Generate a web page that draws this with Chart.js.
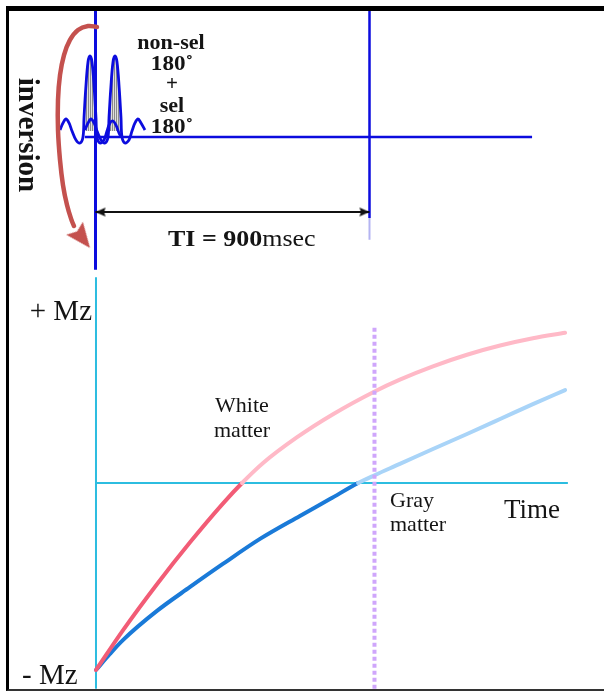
<!DOCTYPE html>
<html><head><meta charset="utf-8">
<script src="https://cdn.jsdelivr.net/npm/chart.js@4.4.1/dist/chart.umd.min.js"></script>
<style>
html,body{margin:0;padding:0;background:#fff;}
#wrap{position:relative;width:604px;height:691px;overflow:hidden;}
#c{position:absolute;left:0;top:0;}
#frame{position:absolute;left:6px;top:6px;width:598px;height:685px;box-sizing:border-box;border-top:5px solid #000;border-left:3px solid #000;border-bottom:2px solid #333;pointer-events:none;}
</style></head><body>
<div id="wrap"><canvas id="c" width="604" height="691"></canvas><div id="frame"></div></div>
<script>
// ---------- Lower chart: longitudinal magnetisation recovery ----------
const wmTime = [0, 87, 197, 304, 410, 472, 540, 650, 766, 902, 982, 1089, 1199, 1306, 1412, 1516];
const wmMz   = [-1.0, -0.788, -0.541, -0.317, -0.110, 0, 0.107, 0.245, 0.368, 0.491, 0.553, 0.624, 0.686, 0.735, 0.774, 0.803];
const gmTime = [0, 45, 87, 197, 304, 410, 530, 659, 756, 847, 902, 982, 1089, 1199, 1306, 1412, 1516];
const gmMz   = [-1.0, -0.914, -0.840, -0.684, -0.556, -0.433, -0.299, -0.176, -0.086, 0, 0.043, 0.102, 0.182, 0.262, 0.342, 0.422, 0.497];
const TI = 900;                       // msec
const timeAxisEnd = 1525;             // msec
const mzAxisRange = [-1.10, 1.10];    // vertical Mz axis extent
const tiLineRange = [-1.10, 0.845];   // dotted TI marker extent

// ---------- Upper diagram: pulse sequence ----------
const pulse1T = [-116.6,-106.8,-96.9,-87.0,-77.2,-64.1,-50.9,-41.1,-37.8,-31.9,-24.6,-18.1,-11.5,-4.3,1.6,4.9,14.8,27.9,37.8,47.6,57.5,67.3,77.2,83.8];
const pulse1A = [0.086,0.173,0.222,0.173,0.074,-0.037,-0.074,0,0.235,0.605,0.926,1.0,0.926,0.605,0.235,0,-0.074,-0.037,0.074,0.173,0.198,0.148,0.049,0];
const pulse2T = [-34.5,-24.6,-14.8,-4.9,4.9,18.1,31.2,41.1,44.3,50.3,57.5,64.1,70.6,77.8,83.8,87.0,96.9,110.0,119.9,129.7,139.6,149.5,162.6];
const pulse2A = [0.086,0.173,0.222,0.173,0.074,-0.037,-0.074,0,0.235,0.605,0.926,1.0,0.926,0.605,0.235,0,-0.074,-0.037,0.074,0.173,0.222,0.173,0.086];
const mainLobe1 = [7, 15];   // index range of main lobe in pulse1
const mainLobe2 = [7, 15];   // index range of main lobe in pulse2
const lobeBase = 0.074;
const arcT = [4.9,-24.6,-57.5,-83.8,-103.5,-116.6,-123.2,-123.2,-116.6,-106.8,-93.6,-78.8,-70.6];
const arcA = [1.358,1.370,1.321,1.198,1.012,0.765,0.457,0.086,-0.284,-0.593,-0.840,-1.025,-1.099];
const arcTip = {t: -18.1, a: -1.370};
const markerA = [1.57, -1.64];           // vertical marker at t = 0
const tiMarkerA = [1.57, -1.0, -1.27];   // vertical marker at t = TI (solid, faded end)
const baselineT = [-35, 1434];
const tiArrowT = [0, TI];
const tiArrowA = -0.926;

const pts = (xs, ys) => xs.map((x, i) => ({x, y: ys[i]}));

// hatch pattern for pulse lobes
const pc = document.createElement('canvas'); pc.width = 2; pc.height = 2;
const pctx = pc.getContext('2d');
pctx.fillStyle = '#dedede'; pctx.fillRect(0,0,2,2);
pctx.fillStyle = '#8a8a8a'; pctx.fillRect(0,0,1,2);
const hatch = pctx.createPattern(pc, 'repeat');

// arrowhead images: tip at image centre, pointing left (rotate to aim)
function arrowHead(len, half, color) {
  const c = document.createElement('canvas');
  c.width = Math.ceil(len * 2 + 2); c.height = Math.ceil(half * 2 + 2);
  const g = c.getContext('2d');
  const cx = c.width / 2, cy = c.height / 2;
  g.fillStyle = color;
  g.beginPath(); g.moveTo(cx, cy); g.lineTo(cx + len, cy - half); g.lineTo(cx + len * 0.85, cy); g.lineTo(cx + len, cy + half); g.closePath(); g.fill();
  return c;
}
const smallHead = arrowHead(10, 4.5, '#111');
const bigHead = (() => {
  const c = document.createElement('canvas'); c.width = 54; c.height = 24;
  const g = c.getContext('2d'); g.fillStyle = '#c4514e';
  g.beginPath(); g.moveTo(27, 12); g.lineTo(52, 1.5); g.lineTo(48, 12); g.lineTo(52, 22.5); g.closePath(); g.fill();
  return c;
})();

const BLUE = 'rgb(12,12,222)';
const CYAN = '#2cbde0';

const serif = "'Liberation Serif','Times New Roman',serif";
const LABELS = [
  {text:'inversion', x:26, y:135, rot:90, align:'center', baseline:'middle', font:'bold 29px '+serif},
  {text:'non-sel', x:171, y:44, align:'center', baseline:'middle', font:'bold 21px '+serif, sx:1.05},
  {text:'180˚', x:172, y:65, align:'center', baseline:'middle', font:'bold 21px '+serif, sx:1.1},
  {text:'+', x:172, y:85, align:'center', baseline:'middle', font:'bold 21px '+serif},
  {text:'sel', x:172, y:107, align:'center', baseline:'middle', font:'bold 21px '+serif, sx:1.05},
  {text:'180˚', x:172, y:128, align:'center', baseline:'middle', font:'bold 21px '+serif, sx:1.1},
  {parts:[{text:'TI = 900', font:'bold 23px '+serif},{text:'msec', font:'23px '+serif}], x:168, y:246, sx:1.13},
  {text:'+ Mz', x:92, y:320, align:'right', font:'29px '+serif},
  {text:'- Mz', x:22, y:684, font:'29px '+serif},
  {text:'White', x:215, y:412, font:'22px '+serif},
  {text:'matter', x:214, y:437, font:'22px '+serif},
  {text:'Gray', x:390, y:507, font:'22px '+serif},
  {text:'matter', x:390, y:531, font:'22px '+serif},
  {text:'Time', x:504, y:518, font:'27px '+serif}
];

const labelPlugin = {
  id: 'labels',
  afterDatasetsDraw(chart) {
    const ctx = chart.ctx;
    LABELS.forEach(l => {
      ctx.save();
      ctx.fillStyle = '#141414';
      ctx.textAlign = l.align || 'left';
      ctx.textBaseline = l.baseline || 'alphabetic';
      ctx.translate(l.x, l.y);
      if (l.rot) ctx.rotate(l.rot * Math.PI / 180);
      if (l.sx) ctx.scale(l.sx, 1);
      if (l.parts) {
        let x = 0;
        l.parts.forEach(p => { ctx.font = p.font; ctx.fillText(p.text, x, 0); x += ctx.measureText(p.text).width; });
      } else {
        ctx.font = l.font;
        ctx.fillText(l.text, 0, 0);
      }
      ctx.restore();
    });
  }
};

const mkTop = (o) => Object.assign({xAxisID:'x', yAxisID:'y', pointRadius:0, showLine:true, fill:false}, o);
const mkBot = (o) => Object.assign({xAxisID:'xB', yAxisID:'yB', pointRadius:0, showLine:true, fill:false}, o);

const datasets = [
  // lower chart (first = on top)
  mkBot({data: pts([TI, TI], tiLineRange), borderColor:'#cfa6fb', borderWidth:4, borderDash:[4,3]}),
  mkBot({data: pts(wmTime, wmMz), borderWidth:4, cubicInterpolationMode:'monotone', borderCapStyle:'round',
       segment:{borderColor: c => c.p0.parsed.y >= 0 ? '#ffb9c7' : '#f25c76'}}),
  mkBot({data: pts(gmTime, gmMz), borderWidth:4, cubicInterpolationMode:'monotone', borderCapStyle:'round',
       segment:{borderColor: c => c.p0.parsed.y >= 0 ? '#a9d4f8' : '#1a7ad8'}}),
  mkBot({data: pts([0, timeAxisEnd], [0, 0]), borderColor:CYAN, borderWidth:2}),
  mkBot({data: pts([0, 0], mzAxisRange), borderColor:CYAN, borderWidth:2}),
  // upper diagram
  mkTop({data: [{x:arcTip.t, y:arcTip.a}], showLine:false, pointRadius:1, pointStyle:bigHead, pointRotation:232}),
  mkTop({data: pts(arcT, arcA), borderColor:'#c4514e', borderWidth:4.5, tension:0.4, borderCapStyle:'round'}),
  mkTop({data: pts(tiArrowT, [tiArrowA, tiArrowA]), borderColor:'#111', borderWidth:2, pointRadius:1, pointStyle:smallHead,
       pointRotation: c => c.dataIndex === 0 ? 0 : 180}),
  mkTop({data: pts([0, 0], markerA), borderColor:BLUE, borderWidth:3}),
  mkTop({data: pts([TI, TI], tiMarkerA.slice(0,2)), borderColor:BLUE, borderWidth:2.5}),
  mkTop({data: pts([TI, TI], tiMarkerA.slice(1)), borderColor:'#b4b4f2', borderWidth:2}),
  mkTop({data: pts(baselineT, [0, 0]), borderColor:BLUE, borderWidth:2.5}),
  mkTop({data: pts(pulse1T, pulse1A), borderColor:BLUE, borderWidth:2.8, tension:0.35}),
  mkTop({data: pts(pulse2T, pulse2A), borderColor:BLUE, borderWidth:2.8, tension:0.35}),
  mkTop({data: pts(pulse1T.slice(mainLobe1[0], mainLobe1[1]+1), pulse1A.slice(mainLobe1[0], mainLobe1[1]+1)),
       borderWidth:0, tension:0.35, fill:{value:lobeBase}, backgroundColor:hatch}),
  mkTop({data: pts(pulse2T.slice(mainLobe2[0], mainLobe2[1]+1), pulse2A.slice(mainLobe2[0], mainLobe2[1]+1)),
       borderWidth:0, tension:0.35, fill:{value:lobeBase}, backgroundColor:hatch})
];

new Chart(document.getElementById('c'), {
  type: 'scatter',
  data: { datasets },
  options: {
    responsive: false,
    animation: false,
    events: [],
    layout: { padding: 0, autoPadding: false },
    plugins: { legend:{display:false}, tooltip:{enabled:false}, title:{display:false} },
    scales: {
      x:  { type:'linear', min:-313.7, max:1670.3, display:false },
      y:  { type:'linear', min:-6.8395, max:1.6914, display:false },
      xB: { type:'linear', axis:'x', min:-310.2, max:1641.7, display:false },
      yB: { type:'linear', axis:'y', min:-1.1123, max:2.5829, display:false }
    }
  },
  plugins: [labelPlugin]
});
</script></body></html>
